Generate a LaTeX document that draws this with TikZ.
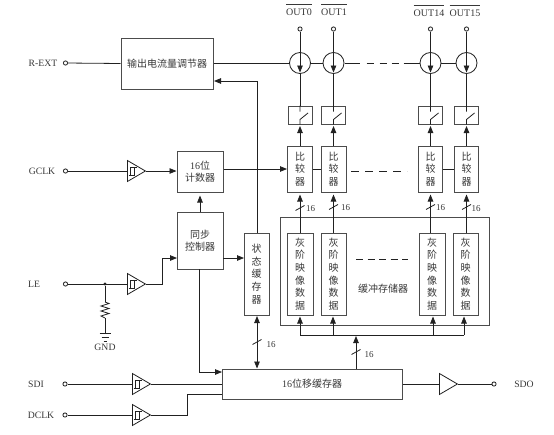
\documentclass[tikz,border=0pt]{standalone}
\usepackage{fontspec}
\setmainfont{Liberation Serif}
\newfontfamily\cjk{Noto Sans CJK SC}
\usetikzlibrary{arrows.meta,shapes.geometric}
\definecolor{ink}{gray}{0.13}
\definecolor{boxline}{gray}{0.3}
\definecolor{txt}{gray}{0.22}
\tikzset{
  wire/.style={draw=ink,line width=0.8pt},
  arrowwire/.style={wire,-{Triangle[length=7pt,width=5.5pt]}},
  bothwire/.style={wire,{Triangle[length=7pt,width=5.5pt]}-{Triangle[length=7pt,width=5.5pt]}},
  blockbox/.style={draw=boxline,line width=1pt,rectangle,inner sep=0pt,align=center,text=txt,font=\cjk\fontsize{10}{12.6}\selectfont},
  pin/.style={circle,draw=ink,line width=0.8pt,minimum size=4.2pt,inner sep=0pt,fill=white},
  lab/.style={inner sep=0pt,text=txt,font=\fontsize{9.7}{11}\selectfont},
  outlab/.style={inner sep=0pt,text=txt,anchor=base,font=\fontsize{10}{11}\selectfont},
  buslab/.style={inner sep=0pt,text=txt,font=\fontsize{9}{10}\selectfont},
  source/.style={circle,draw=ink,line width=0.8pt,minimum size=21pt,inner sep=0pt},
  buftri/.style={shape=isosceles triangle,isosceles triangle stretches,draw=ink,line width=0.8pt,minimum width=21pt,minimum height=18pt,inner sep=0pt,anchor=lower side,shape border rotate=0},
  dashwire/.style={draw=ink,line width=0.8pt,dash pattern=on 8pt off 6pt},
  junction/.style={circle,fill=ink,minimum size=3.2pt,inner sep=0pt},
}
% box from corners: name, x1, y1, x2, y2, text
\newcommand{\Bx}[6]{%
  \pgfmathsetmacro{\bxw}{#4-#2}\pgfmathsetmacro{\bxh}{#5-#3}%
  \pgfmathsetmacro{\bxx}{(#2+#4)/2}\pgfmathsetmacro{\bxy}{(#3+#5)/2}%
  \node[blockbox,minimum width=\bxw pt,minimum height=\bxh pt] (#1) at (\bxx,\bxy) {#6};}
% overlined pin label
\newcommand{\Ov}[1]{$\overline{\mbox{\rule{0pt}{9.8pt}#1}}$}
% Schmitt glyph at base point
\newcommand{\Sch}[2]{%
  \draw[draw=ink,line width=0.7pt] ({#1+1.5},{#2+4})--({#1+7},{#2+4})--({#1+7},{#2-4})
     ({#1+3.5},{#2+4})--({#1+3.5},{#2-4})--({#1+10},{#2-4});}
% slash across a vertical bus
\newcommand{\Slash}[2]{\draw[draw=ink,line width=0.8pt] ({#1-4.5},{#2+2.5})--({#1+4.5},{#2-2.5});}
% switch glyph
\newcommand{\Sw}[1]{%
  \draw[draw=ink,line width=0.8pt] (#1.north) -- ++(0,6) (#1.south) -- ++(0,-5) -- ++(8,-6.5);}
\begin{document}
\begin{tikzpicture}[x=1pt,y=-1pt]
\useasboundingbox (0,0) rectangle (554,434);
\fill[white] (0,0) rectangle (554,434);

% ---- output pins
\node[outlab] (lo0) at (299,15.3) {\Ov{OUT0}};
\node[outlab] (lo1) at (334,15.3) {\Ov{OUT1}};
\node[outlab] (lo14) at (429,16) {\Ov{OUT14}};
\node[outlab] (lo15) at (465,16) {\Ov{OUT15}};
\foreach \n/\x in {0/300,1/333.5,2/430.5,3/466.5}{
  \node[pin] (p\n) at (\x,29) {};
  \node[source] (cs\n) at (\x,63) {};
  \coordinate (tip\n) at (\x,72.5);
  \draw[arrowwire,shorten >=0pt] (p\n) -- (tip\n);
  \pgfmathsetmacro{\xa}{\x-12}\pgfmathsetmacro{\xb}{\x+12}
  \Bx{sw\n}{\xa}{106}{\xb}{124}{}
  \draw[wire] (tip\n) -- (sw\n.north);
  \Sw{sw\n}
}
% ---- comparators
\Bx{cmp0}{287.5}{146}{312.5}{192}{比\\较\\器}
\Bx{cmp1}{321}{146}{346}{192}{比\\较\\器}
\Bx{cmp2}{418.5}{146}{442.5}{192}{比\\较\\器}
\Bx{cmp3}{454.5}{146}{478.5}{192}{比\\较\\器}
\foreach \n in {0,1,2,3}{\draw[arrowwire,shorten >=1.5pt] (cmp\n.north) -- (sw\n.south);}
\draw[wire] (cmp0.east) -- (cmp1.west);
\draw[wire] (cmp2.east) -- (cmp3.west);
\coordinate (dc1) at (351,171); \coordinate (dc2) at (407,171);
\draw[dashwire] (dc1) -- (dc2);
% ---- current source chain
\Bx{reg}{121}{38}{213}{89}{输出电流量调节器}
\draw[wire] (reg.east |- cs0.west) -- (cs0.west);
\draw[wire] (cs0.east) -- (cs1.west);
\coordinate (ds1) at (344.5,63); \coordinate (ds2) at (420,63);
\draw[dashwire,dash pattern=on 15pt off 7pt on 7pt off 6pt on 7pt off 5pt on 7pt off 5pt on 15pt off 0pt] (ds1) -- (ds2);
\draw[wire] (cs2.east) -- (cs3.west);
\node[lab] (lrext) at (43,63) {R-EXT};
\node[pin] (prext) at (65.5,63) {};
\draw[wire] (prext) -- (reg.west);
% ---- buffer
\Bx{buf}{280}{217}{489}{325}{}
\Bx{gr0}{287}{233}{313}{315}{灰\\阶\\映\\像\\数\\据}
\Bx{gr1}{321}{233}{346}{315}{灰\\阶\\映\\像\\数\\据}
\Bx{gr2}{419}{233}{445}{315}{灰\\阶\\映\\像\\数\\据}
\Bx{gr3}{453}{233}{478}{315}{灰\\阶\\映\\像\\数\\据}
\node[blockbox,draw=none,fill=none] (lbuf) at (383,289) {缓冲存储器};
\coordinate (db1) at (356,259); \coordinate (db2) at (408,259);
\draw[dashwire,dash pattern=on 7pt off 4.5pt] (db1) -- (db2);
% gray -> comparator
\coordinate (g0t) at (300,233); \coordinate (g1t) at (333.5,233);
\coordinate (g2t) at (430.5,233); \coordinate (g3t) at (466.5,233);
\foreach \n/\c/\ly/\lx in {0/g0t/209/310.5,1/g1t/208/345.5,2/g2t/208/440.5,3/g3t/208.5/476}{
  \draw[arrowwire,shorten >=2pt] (\c) -- (cmp\n.south);
  \node[buslab] (l16\n) at (\lx,\ly) {16};
}
\Slash{300}{208}\Slash{333.5}{207}\Slash{430.5}{207}\Slash{466.5}{207}
% ---- shift register
\Bx{sr}{222}{369}{402}{399}{\fontspec{Liberation Serif}16\cjk 位移缓存器}
\coordinate (bus0) at (300,335); \coordinate (bus1) at (333,335);
\coordinate (bus2) at (433,335); \coordinate (bus3) at (464,335);
\coordinate (busm) at (356,336);
\coordinate (srtop) at (356,369);
\draw[wire] (bus0) -- (bus3);
\foreach \n in {0,1,2,3}{\draw[arrowwire,shorten >=1pt] (bus\n) -- (bus\n |- gr\n.south);}
\draw[arrowwire] (srtop) -- (busm);
\Slash{356}{352}
\node[buslab] (l16m) at (369,355) {16};
% ---- status latch
\Bx{st}{244}{233}{269}{315}{\fontsize{10}{13.6}\selectfont 状\\态\\缓\\存\\器}
\coordinate (sttop) at (257,233);
\coordinate (stbot) at (257,315);
\coordinate (srst) at (257,369);
\coordinate (regbend) at (257,81);
\coordinate (regin) at (213,81);
\draw[arrowwire,shorten >=1pt] (sttop) -- (regbend) -- (regin);
\draw[bothwire,shorten <=1pt,shorten >=0.5pt] (stbot) -- (srst);
\Slash{257}{342}
\node[buslab] (l16s) at (271,345) {16};
% ---- counter and sync control
\Bx{cnt}{177}{151}{223}{192}{\fontspec{Liberation Serif}16\cjk 位\\计数器}
\Bx{syn}{177}{212}{223}{269}{同步\\控制器}
\draw[arrowwire,shorten >=3pt] (syn.north) -- (cnt.south);
\draw[arrowwire] (cnt.east |- cmp0.west) -- (cmp0.west);
% GCLK
\node[lab] (lgclk) at (42,171) {GCLK};
\node[pin] (pgclk) at (65.5,171) {};
\node[buftri] (tg) at (127,171) {};
\Sch{127}{171}
\draw[wire] (pgclk) -- (tg.lower side);
\draw[arrowwire] (tg.apex) -- (cnt.west |- tg.apex);
% LE
\node[lab] (lle) at (34,284) {LE};
\node[pin] (ple) at (65.5,284) {};
\node[buftri] (tl) at (127,284) {};
\Sch{127}{284}
\node[junction] (jle) at (105,284) {};
\draw[wire] (ple) -- (tl.lower side);
\coordinate (lebend) at (162,284); \coordinate (lebend2) at (162,258); \coordinate (synin) at (177,258);
\draw[arrowwire] (tl.apex) -- (lebend) -- (lebend2) -- (synin);
\coordinate (synout) at (223,258); \coordinate (stin) at (244,258);
\draw[arrowwire] (synout) -- (stin);
% resistor & ground
\coordinate (r1) at (105,302); \coordinate (r2) at (105,318); \coordinate (gnd) at (105,333);
\draw[wire] (jle) -- (r1);
\draw[wire] (r1) -- ++(4,1.5) -- ++(-8,2.5) -- ++(8,2.5) -- ++(-8,2.5) -- ++(8,2.5) -- ++(-8,2.5) -- (r2);
\draw[wire] (r2) -- (gnd);
\draw[wire] (99.5,333) -- (110.5,333) (101.5,337) -- (108.5,337) (103.5,341) -- (106.5,341);
\node[lab] (lgnd) at (105,347.5) {GND};
% sync -> shift register
\coordinate (sytop) at (199.5,269); \coordinate (sybend) at (199.5,372); \coordinate (srin) at (222,372);
\draw[arrowwire] (sytop) -- (sybend) -- (srin);
% SDI
\node[lab] (lsdi) at (36,384) {SDI};
\node[pin] (psdi) at (65,384) {};
\node[buftri] (ts) at (132,384) {};
\Sch{132}{384}
\draw[wire] (psdi) -- (ts.lower side);
\draw[wire] (ts.apex) -- (sr.west |- ts.apex);
% DCLK
\node[lab] (ldclk) at (41,415) {DCLK};
\node[pin] (pdclk) at (65,415) {};
\node[buftri] (td) at (132,415) {};
\Sch{132}{415}
\draw[wire] (pdclk) -- (td.lower side);
\coordinate (dcb1) at (187,415); \coordinate (dcb2) at (187,394); \coordinate (dcin) at (222,394);
\draw[wire] (td.apex) -- (dcb1) -- (dcb2) -- (dcin);
% SDO
\node[buftri] (to) at (439,384) {};
\node[pin] (psdo) at (494,384) {};
\node[lab] (lsdo) at (524,384) {SDO};
\draw[wire] (sr.east) -- (to.lower side);
\draw[wire] (to.apex) -- (psdo);
\end{tikzpicture}
\end{document}
